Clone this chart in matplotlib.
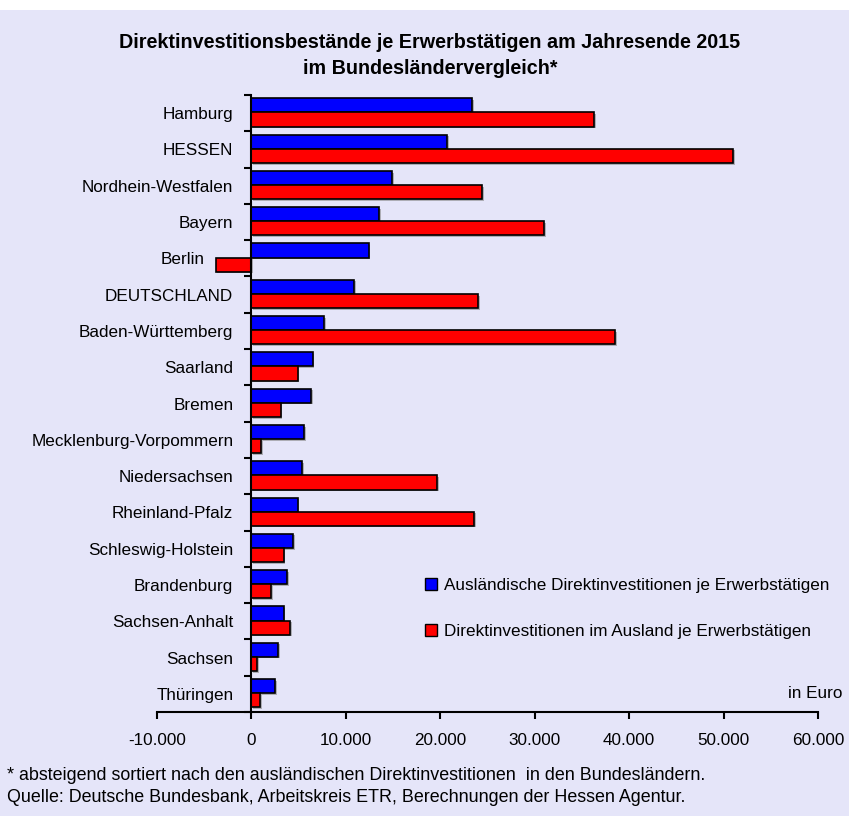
import matplotlib
matplotlib.use("Agg")
import matplotlib.pyplot as plt
import matplotlib.patheffects as pe
import matplotlib.transforms as mtransforms
from matplotlib.patches import Patch, Rectangle
from matplotlib.ticker import FixedLocator, FuncFormatter
import numpy as np

plt.rcParams['font.family'] = ['Liberation Sans', 'DejaVu Sans']

laender = ['Hamburg', 'HESSEN', 'Nordhein-Westfalen', 'Bayern', 'Berlin', 'DEUTSCHLAND',
           'Baden-Württemberg', 'Saarland', 'Bremen', 'Mecklenburg-Vorpommern',
           'Niedersachsen', 'Rheinland-Pfalz', 'Schleswig-Holstein', 'Brandenburg',
           'Sachsen-Anhalt', 'Sachsen', 'Thüringen']
auslaendische = [23400, 20700, 14900, 13500, 12400, 10900, 7700, 6500, 6300, 5600,
                 5400, 4900, 4400, 3800, 3400, 2800, 2500]
im_ausland = [36300, 51000, 24400, 31000, -3800, 24000, 38500, 4900, 3100, 1000,
              19700, 23600, 3400, 2100, 4100, 600, 900]
x_ticks = [-10000, 0, 10000, 20000, 30000, 40000, 50000, 60000]

bg = '#E5E5F9'
fig = plt.figure(figsize=(8.49, 8.16), dpi=100)
fig.patch.set_facecolor('white')
fig.patches.append(Rectangle((0, 0), 1, 1 - 10 / 816, transform=fig.transFigure,
                             facecolor=bg, edgecolor='none', zorder=-10))

ax = fig.add_axes([157 / 849, 1 - 712 / 816, (818 - 157) / 849, (712 - 95) / 816])
ax.set_facecolor(bg)

y = np.arange(len(laender))
shadow = [pe.SimplePatchShadow(offset=(1.2, -1.2), shadow_rgbFace='#888888', alpha=0.6), pe.Normal()]
b1 = ax.barh(y - 0.215, auslaendische, height=0.39, color='#0000FF', edgecolor='black', linewidth=1.2)
b2 = ax.barh(y + 0.175, im_ausland, height=0.39, color='#FF0000', edgecolor='black', linewidth=1.2)
for bar in list(b1) + list(b2):
    bar.set_path_effects(shadow)

ax.set_xlim(-10000, 60000)
ax.set_ylim(len(laender) - 0.5, -0.5)

ax.spines['top'].set_visible(False)
ax.spines['right'].set_visible(False)
ax.spines['left'].set_position(('data', 0))
ax.spines['left'].set_linewidth(1.5)
ax.spines['bottom'].set_linewidth(1.5)

ax.set_yticks(y)
ax.set_yticklabels(laender, fontsize=12.3)
ax.yaxis.set_minor_locator(FixedLocator(np.arange(-0.5, len(laender), 1.0)))
ax.tick_params(axis='y', which='major', length=0, pad=13)
ax.tick_params(axis='y', which='minor', length=5, width=1.5, direction='out')

# Berlin label sits further left, clear of the negative bar
for lbl in ax.get_yticklabels():
    if lbl.get_text() == 'Berlin':
        lbl.set_transform(lbl.get_transform() + mtransforms.ScaledTranslation(-29 / 100, 0, fig.dpi_scale_trans))

ax.xaxis.set_major_locator(FixedLocator(x_ticks))
ax.xaxis.set_major_formatter(FuncFormatter(lambda v, p: f"{int(v):,}".replace(',', '.')))
ax.tick_params(axis='x', length=5, width=1.5, direction='out', labelsize=12.3, pad=10)

handles = [Patch(facecolor='#0000FF', edgecolor='black'), Patch(facecolor='#FF0000', edgecolor='black')]
ax.legend(handles, ['Ausländische Direktinvestitionen je Erwerbstätigen',
                    'Direktinvestitionen im Ausland je Erwerbstätigen'],
          loc='upper left', bbox_to_anchor=(410 / 849, 1 - 563 / 816),
          bbox_transform=fig.transFigure, frameon=False, fontsize=12.3,
          handlelength=0.7, handleheight=0.7, handletextpad=0.4, labelspacing=1.8)

fig.text(842 / 849, 1 - 693 / 816, 'in Euro', ha='right', va='center', fontsize=12.3)

fig.text(430 / 849, 1 - 42 / 816, 'Direktinvestitionsbestände je Erwerbstätigen am Jahresende 2015',
         ha='center', va='center', fontsize=14.2, fontweight='bold')
fig.text(430 / 849, 1 - 68 / 816, 'im Bundesländervergleich*',
         ha='center', va='center', fontsize=14.2, fontweight='bold')

fig.text(7 / 849, 1 - 776 / 816,
         '* absteigend sortiert nach den ausländischen Direktinvestitionen  in den Bundesländern.',
         ha='left', va='center', fontsize=12.9)
fig.text(7 / 849, 1 - 798 / 816,
         'Quelle: Deutsche Bundesbank, Arbeitskreis ETR, Berechnungen der Hessen Agentur.',
         ha='left', va='center', fontsize=12.9)

fig.savefig('out.png', dpi=100, facecolor=fig.get_facecolor())
